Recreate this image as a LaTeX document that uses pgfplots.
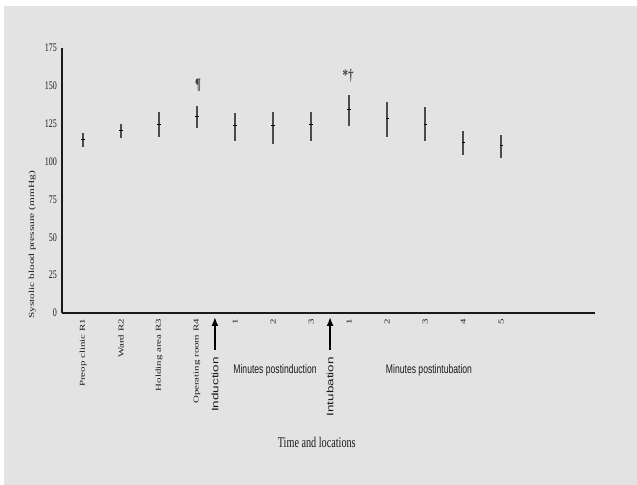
\documentclass[border=0pt]{standalone}
\usepackage{graphicx}
\usepackage{fontspec}
\setmainfont{Liberation Serif}
\newfontfamily\sansf{Liberation Sans}
\usepackage{pgfplots}
\pgfplotsset{compat=1.18}
\usetikzlibrary{arrows.meta}
\definecolor{bg}{HTML}{E3E3E3}
\definecolor{ink}{HTML}{1A1A1A}
\newcommand{\vs}[1]{\scalebox{1}[1.45]{#1}}
\newcommand{\hs}[1]{\scalebox{1.45}[1]{#1}}
\begin{document}
\begin{tikzpicture}[x=1bp,y=1bp]
\useasboundingbox (0,0) rectangle (637,485);
\fill[white] (0,0) rectangle (637,485);
\fill[bg] (4,0) rectangle (637,479);
\begin{axis}[
  at={(62bp,172bp)}, anchor=south west,
  scale only axis, width=533bp, height=265bp,
  xmin=0.447, xmax=14.47, ymin=0, ymax=175,
  axis lines=left, axis line style={ink, line width=1.1bp, -},
  clip=false,
  major tick length=0pt,
  ytick={0,25,50,75,100,125,150,175},
  yticklabels={\vs{0},\vs{25},\vs{50},\vs{75},\vs{100},\vs{125},\vs{150},\vs{175}},
  yticklabel style={font=\fontsize{8bp}{9bp}\selectfont, anchor=east, inner sep=0pt, xshift=-5bp, text=ink},
  xtick={1,2,3,4,5,6,7,8,9,10,11,12},
  xticklabels={\hs{Preop clinic R1},\hs{Ward R2},\hs{Holding area R3},\hs{Operating room R4},\hs{1},\hs{2},\hs{3},\hs{1},\hs{2},\hs{3},\hs{4},\hs{5}},
  xticklabel style={font=\fontsize{7.5bp}{9bp}\selectfont, rotate=90, anchor=east, inner sep=0pt, inner xsep=6bp, text=ink},
  ylabel={\hs{Systolic blood pressure (mmHg)}},
  ylabel style={font=\fontsize{7.8bp}{9bp}\selectfont, at={(axis description cs:-0.056,0.257)}, anchor=center, text=ink},
  xlabel={\vs{Time and locations}},
  xlabel style={font=\fontsize{10.2bp}{12bp}\selectfont, at={(axis description cs:0.478,-0.49)}, anchor=center, text=ink},
]
\addplot[only marks, mark=-, mark size=1.6bp, black, mark options={line width=1bp},
  error bars/.cd, y dir=both, y explicit, error mark=none,
  error bar style={line width=1.3bp, color=black!70}]
  table[x=x, y=y, y error plus=ep, y error minus=em] {
x y ep em
1 114.3 4.6 4.7
2 120.4 4.2 5.0
3 124.6 8.0 8.6
4 129.7 7.2 7.8
5 123.5 8.4 9.7
6 123.5 9.5 11.9
7 124.2 8.8 10.4
8 134.5 9.5 10.8
9 128.6 11.0 12.2
10 124.6 11.3 10.8
11 112.3 7.7 7.9
12 110.3 7.3 7.7
};
\draw[-{Latex[length=9bp,width=7bp]}, line width=2.6bp, black] (axis cs:4.47,-24.4) -- (axis cs:4.47,-2.6);
\draw[-{Latex[length=9bp,width=7bp]}, line width=2.6bp, black] (axis cs:7.5,-24.4) -- (axis cs:7.5,-2.6);
\end{axis}
\node[rotate=90, anchor=east, inner sep=0pt, font=\sansf\fontsize{9.3bp}{11bp}\selectfont, text=ink] at (215,128) {\hs{Induction}};
\node[rotate=90, anchor=east, inner sep=0pt, font=\sansf\fontsize{9.3bp}{11bp}\selectfont, text=ink] at (330,128) {\hs{Intubation}};
\node[font=\sansf\fontsize{8.6bp}{10bp}\selectfont, text=ink] at (275,115) {\vs{Minutes postinduction}};
\node[font=\sansf\fontsize{8.6bp}{10bp}\selectfont, text=ink] at (429,115) {\vs{Minutes postintubation}};
\node[font=\bfseries\fontsize{11bp}{12bp}\selectfont, text=black!75] at (198,400) {\vs{¶}};
\node[font=\bfseries\fontsize{11bp}{12bp}\selectfont, text=black!75] at (348,409) {\vs{*†}};
\end{tikzpicture}
\end{document}
